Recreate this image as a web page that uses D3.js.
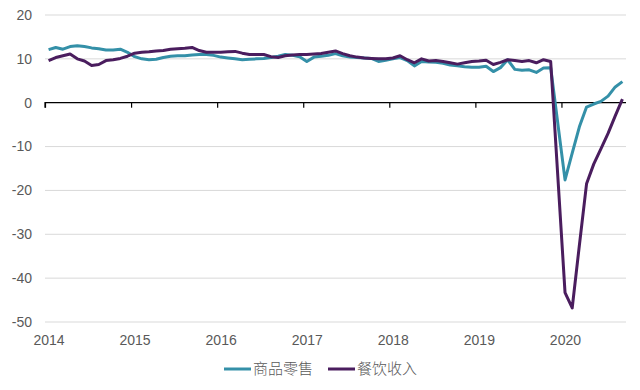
<!DOCTYPE html>
<html><head><meta charset="utf-8">
<script src="https://cdn.jsdelivr.net/npm/d3@7"></script>
<style>
html,body{margin:0;padding:0;background:#fff;}
svg{display:block;}
</style></head>
<body>
<svg id="chart" width="640" height="390"></svg>
<script>
// Monthly data, Jan 2014 - Sep 2020 (Dec 2019 not reported)
const years = [2014, 2015, 2016, 2017, 2018, 2019, 2020];
const yTicks = [20, 10, 0, -10, -20, -30, -40, -50];
const seriesNames = ["商品零售", "餐饮收入"];
const retailGoods = [
  12.1, 12.6, 12.2, 12.8, 13.0, 12.8, 12.5, 12.3, 12.0, 12.0, 12.2, 11.5,
  10.5, 10.0, 9.8, 9.9, 10.3, 10.6, 10.7, 10.7, 10.9, 11.0, 11.0, 10.8,
  10.4, 10.2, 10.0, 9.8, 9.9, 10.0, 10.1, 10.3, 10.6, 11.0, 10.8, 10.5,
  9.4, 10.4, 10.6, 10.8, 11.2, 10.7, 10.4, 10.3, 10.2, 10.1, 9.4, 9.7,
  10.0, 10.3, 9.6, 8.4, 9.4, 9.3, 9.2, 9.0, 8.6, 8.4, 8.2, 8.1,
  8.1, 8.3, 7.1, 8.0, 9.8, 7.6, 7.4, 7.5, 6.9, 7.9, 8.0, null,
  -17.6, -11.5, -5.5, -1.0, -0.3, 0.3, 1.5, 3.6, 4.8
];
const catering = [
  9.6, 10.3, 10.7, 11.1, 10.0, 9.5, 8.5, 8.7, 9.6, 9.8, 10.1, 10.6,
  11.3, 11.5, 11.6, 11.8, 11.9, 12.2, 12.3, 12.4, 12.6, 11.9, 11.5, 11.5,
  11.5, 11.6, 11.7, 11.3, 11.0, 11.0, 11.0, 10.5, 10.3, 10.7, 10.9, 11.0,
  11.0, 11.1, 11.2, 11.5, 11.8, 11.2, 10.7, 10.4, 10.2, 10.1, 10.0, 10.0,
  10.2, 10.7, 9.8, 9.1, 10.0, 9.5, 9.6, 9.4, 9.1, 8.8, 9.1, 9.4,
  9.5, 9.7, 8.7, 9.2, 9.8, 9.6, 9.4, 9.6, 9.1, 9.8, 9.4, null,
  -43.3, -46.8, -32.5, -18.5, -14.0, -10.5, -7.0, -3.0, 0.8
];
const colors = ["#3490a8", "#4a1d5e"];

const svg = d3.select("#chart");
const x = d3.scaleLinear().domain([2014, 2020 + 9/12]).range([45, 626]);
const y = d3.scaleLinear().domain([-50, 20]).range([322, 15]);
const monthX = i => x(2014 + (i + 0.5) / 12);

// gridlines
svg.append("g").selectAll("line").data(yTicks.filter(d => d !== 0)).join("line")
  .attr("x1", x.range()[0]).attr("x2", x.range()[1])
  .attr("y1", d => y(d)).attr("y2", d => y(d))
  .attr("stroke", "#d9d9d9").attr("stroke-width", 1);

// y labels
svg.append("g").selectAll("text").data(yTicks).join("text")
  .attr("x", 32).attr("y", d => y(d)).attr("dy", "0.35em")
  .attr("text-anchor", "end")
  .attr("font-family", "Liberation Sans, Arial, sans-serif")
  .attr("font-size", 14).attr("fill", "#595959")
  .text(d => d);

// zero axis with ticks
const axis = d3.axisBottom(x).tickValues(years).tickSize(5).tickFormat("");
const ax = svg.append("g").attr("transform", `translate(0,${y(0)})`).call(axis);
ax.select(".domain").attr("stroke", "#000").attr("stroke-width", 1.2)
  .attr("d", `M${x.range()[0]},5V0H${x.range()[1]}`);
ax.selectAll(".tick line").attr("stroke", "#000").attr("stroke-width", 1.2);

// year labels at bottom
svg.append("g").selectAll("text").data(years).join("text")
  .attr("x", d => x(d) + 4).attr("y", 340).attr("dy", "0.35em")
  .attr("text-anchor", "middle")
  .attr("font-family", "Liberation Sans, Arial, sans-serif")
  .attr("font-size", 14).attr("fill", "#595959")
  .text(d => d);

// lines
const line = d3.line().x(d => d.x).y(d => y(d.v));
[retailGoods, catering].forEach((arr, k) => {
  const pts = arr.map((v, i) => ({x: monthX(i), v})).filter(d => d.v !== null);
  svg.append("path").datum(pts)
    .attr("fill", "none").attr("stroke", colors[k]).attr("stroke-width", 3)
    .attr("stroke-linejoin", "round")
    .attr("d", line);
});

// legend
const lg = svg.append("g");
const legendPos = [224, 328];
seriesNames.forEach((n, k) => {
  lg.append("line").attr("x1", legendPos[k]).attr("x2", legendPos[k] + 27)
    .attr("y1", 369).attr("y2", 369)
    .attr("stroke", colors[k]).attr("stroke-width", 3);
  lg.append("text").attr("x", legendPos[k] + 29).attr("y", 369).attr("dy", "0.35em")
    .attr("font-family", "Noto Sans CJK SC, sans-serif").attr("font-weight", 300)
    .attr("font-size", 15).attr("fill", "#595959").text(n);
});
</script>
</body></html>
